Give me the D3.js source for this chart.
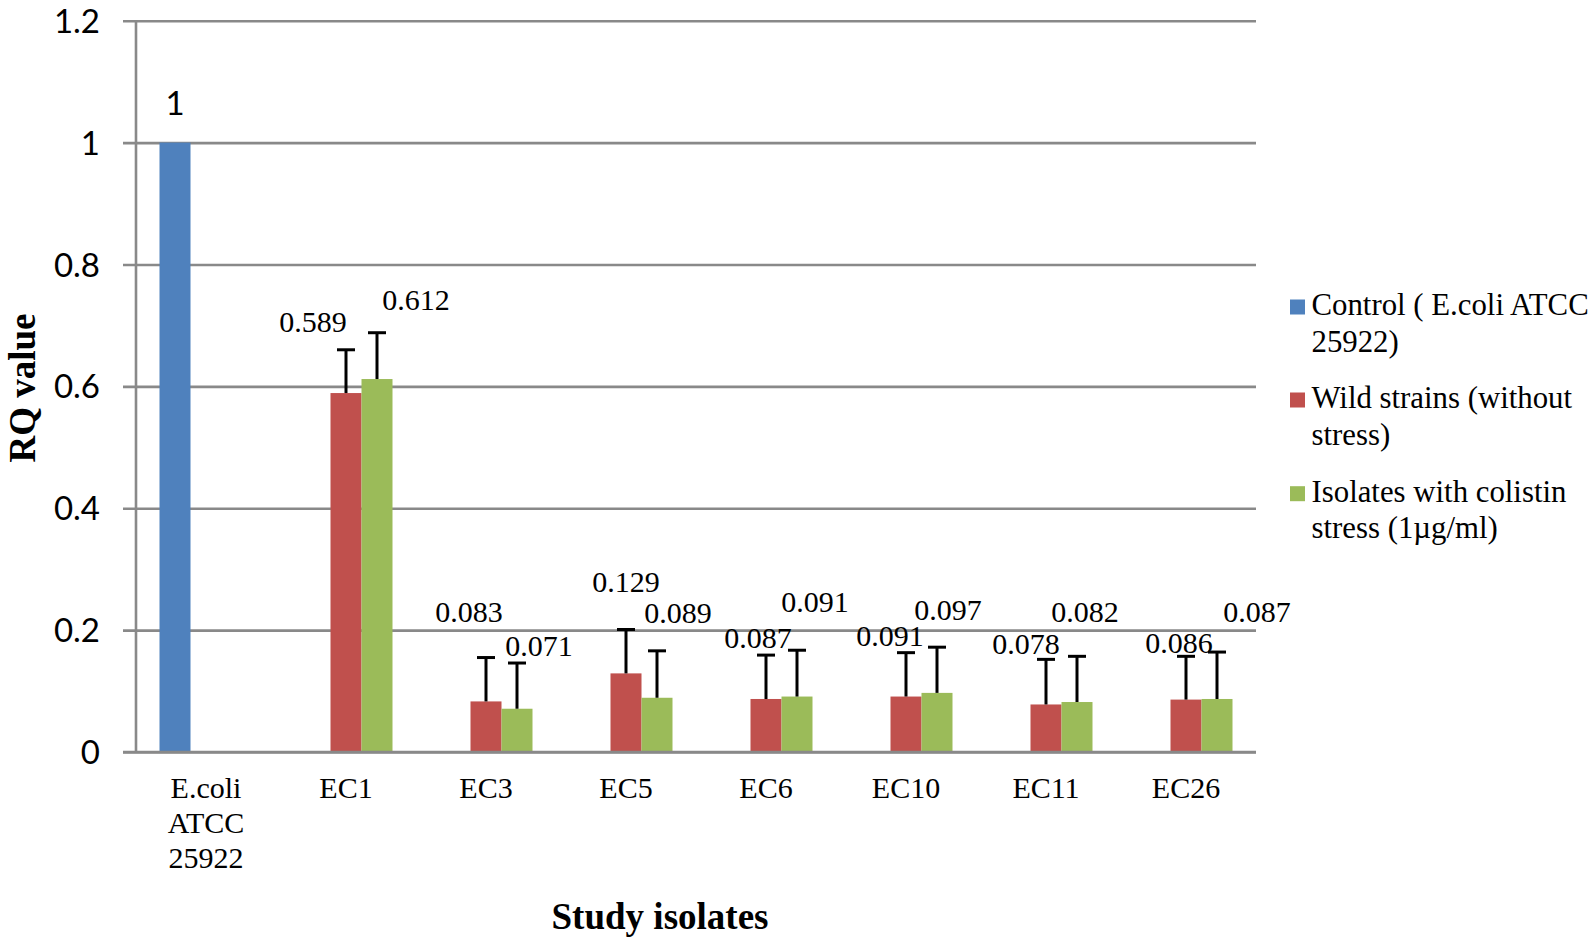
<!DOCTYPE html>
<html>
<head>
<meta charset="utf-8">
<script src="https://cdn.jsdelivr.net/npm/d3@7/dist/d3.min.js"></script>
<style>
  html, body { margin: 0; padding: 0; background: #fff; }
  svg { display: block; }
</style>
</head>
<body>
<svg id="chart" width="1594" height="941"></svg>
<script>
// ---- data ----
const categories = ["E.coli ATCC 25922", "EC1", "EC3", "EC5", "EC6", "EC10", "EC11", "EC26"];
const categoryLines = [["E.coli", "ATCC", "25922"], ["EC1"], ["EC3"], ["EC5"], ["EC6"], ["EC10"], ["EC11"], ["EC26"]];
const seriesNames = ["Control ( E.coli ATCC 25922)", "Wild strains (without stress)", "Isolates with colistin stress (1µg/ml)"];
const legendLines = [["Control ( E.coli ATCC", "25922)"], ["Wild strains (without", "stress)"], ["Isolates with colistin", "stress (1µg/ml)"]];
const controlValues = [1, null, null, null, null, null, null, null];
const wildValues = [null, 0.589, 0.083, 0.129, 0.087, 0.091, 0.078, 0.086];
const stressValues = [null, 0.612, 0.071, 0.089, 0.091, 0.097, 0.082, 0.087];
const controlErrors = [null, null, null, null, null, null, null, null];
const wildErrors = [null, 0.071, 0.072, 0.072, 0.072, 0.072, 0.074, 0.071];
const stressErrors = [null, 0.076, 0.075, 0.077, 0.076, 0.075, 0.075, 0.077];
const yTicks = [0, 0.2, 0.4, 0.6, 0.8, 1, 1.2];
const yTickLabels = ["0", "0.2", "0.4", "0.6", "0.8", "1", "1.2"];
const xTitle = "Study isolates";
const yTitle = "RQ value";

// ---- layout (label nudges, px) ----
const labelOffsets = [
  [[0, -28]],
  [[-33, -61], [39, -69]],
  [[-17, -79], [22, -53]],
  [[0, -81], [21, -75]],
  [[-8, -51], [18, -85]],
  [[-16, -51], [11, -73]],
  [[-20, -50], [8, -80]],
  [[-7, -47], [40, -77]]
];
const colors = ["#4F81BD", "#C0504D", "#9BBB59"];
const serif = "'Liberation Serif', 'DejaVu Serif', serif";
const sans = "Lato, 'Open Sans', sans-serif";

const svg = d3.select("#chart");
const plotLeft = 136, plotRight = 1256, plotTop = 20.7, plotBottom = 752;

const x = d3.scaleBand().domain(categories).range([plotLeft, plotRight]);
const xInner = d3.scaleBand().domain(seriesNames).range([23.5, 116.5]);
const y = d3.scaleLinear().domain([0, 1.2]).range([plotBottom, plotTop]);

// gridlines + y tick labels
const yAxis = d3.axisLeft(y)
  .tickValues(yTicks)
  .tickSize(-(plotRight - 123))
  .tickPadding(23)
  .tickFormat((d, i) => yTickLabels[i]);
const gy = svg.append("g").attr("transform", "translate(123,0)").call(yAxis);
gy.select(".domain").remove();
gy.selectAll(".tick line").attr("stroke", "#898989").attr("stroke-width", 2.6);
gy.selectAll(".tick text")
  .attr("font-family", sans).attr("font-size", 33).attr("fill", "#000").attr("dy", "0.35em");

// vertical axis line
svg.append("line")
  .attr("x1", plotLeft).attr("x2", plotLeft)
  .attr("y1", y(1.2)).attr("y2", y(0))
  .attr("stroke", "#898989").attr("stroke-width", 2.6);

// bars
const seriesValues = [controlValues, wildValues, stressValues];
const seriesErrors = [controlErrors, wildErrors, stressErrors];
const barData = [];
categories.forEach((c, ci) => {
  seriesNames.forEach((s, si) => {
    const v = seriesValues[si][ci];
    if (v !== null) barData.push({ c, ci, s, si, v, e: seriesErrors[si][ci] });
  });
});

svg.append("g").selectAll("rect").data(barData).join("rect")
  .attr("x", d => x(d.c) + xInner(d.s))
  .attr("width", xInner.bandwidth())
  .attr("y", d => y(d.v))
  .attr("height", d => y(0) - y(d.v))
  .attr("fill", d => colors[d.si]);

// x axis baseline
svg.append("line")
  .attr("x1", 123).attr("x2", plotRight)
  .attr("y1", y(0)).attr("y2", y(0))
  .attr("stroke", "#898989").attr("stroke-width", 2.6);

// error bars
const eg = svg.append("g").attr("stroke", "#000").attr("stroke-width", 3);
barData.filter(d => d.e !== null).forEach(d => {
  const cx = x(d.c) + xInner(d.s) + xInner.bandwidth() / 2;
  eg.append("line").attr("x1", cx).attr("x2", cx).attr("y1", y(d.v)).attr("y2", y(d.v + d.e));
  eg.append("line").attr("x1", cx - 9).attr("x2", cx + 9).attr("y1", y(d.v + d.e)).attr("y2", y(d.v + d.e));
});

// data labels
svg.append("g").selectAll("text").data(barData).join("text")
  .attr("x", d => {
    const k = d.si === 0 ? 0 : d.si - 1;
    return x(d.c) + xInner(d.s) + xInner.bandwidth() / 2 + labelOffsets[d.ci][k][0];
  })
  .attr("y", d => {
    const k = d.si === 0 ? 0 : d.si - 1;
    return y(d.v) + labelOffsets[d.ci][k][1];
  })
  .attr("text-anchor", "middle")
  .style("font-family", d => d.si === 0 ? sans : serif)
  .attr("font-size", d => d.si === 0 ? 33 : 30)
  .attr("fill", "#000")
  .text(d => d.si === 0 ? String(d.v) : d3.format(".3f")(d.v));

// category labels
const xl = svg.append("g");
categories.forEach((c, ci) => {
  const t = xl.append("text")
    .attr("text-anchor", "middle")
    .attr("font-family", serif).attr("font-size", 30).attr("fill", "#000");
  categoryLines[ci].forEach((line, li) => {
    t.append("tspan").attr("x", x(c) + x.bandwidth() / 2).attr("y", 798 + li * 35).text(line);
  });
});

// axis titles
svg.append("text")
  .attr("x", 660).attr("y", 929)
  .attr("text-anchor", "middle")
  .attr("font-family", serif).attr("font-weight", "bold").attr("font-size", 37)
  .text(xTitle);
svg.append("text")
  .attr("transform", "translate(35,388) rotate(-90)")
  .attr("text-anchor", "middle")
  .attr("font-family", serif).attr("font-weight", "bold").attr("font-size", 37)
  .text(yTitle);

// legend
const lg = svg.append("g");
const legendBaselines = [315, 408, 501.7];
seriesNames.forEach((s, i) => {
  lg.append("rect")
    .attr("x", 1290).attr("y", legendBaselines[i] - 15.5)
    .attr("width", 15).attr("height", 15)
    .attr("fill", colors[i]);
  const t = lg.append("text")
    .attr("font-family", serif).attr("font-size", 30.8).attr("fill", "#000");
  legendLines[i].forEach((line, li) => {
    t.append("tspan").attr("x", 1311.5).attr("y", legendBaselines[i] + li * 36.5).text(line);
  });
});
</script>
</body>
</html>
